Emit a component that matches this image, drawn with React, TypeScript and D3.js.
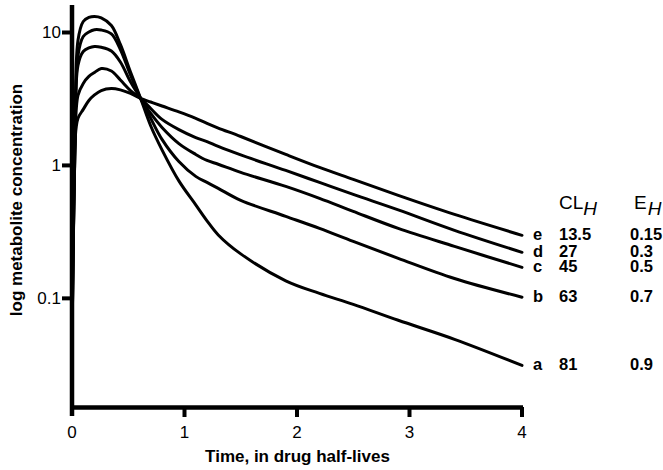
import React from "react";
import * as d3 from "d3";

const times = [0, 0.027, 0.053, 0.1, 0.15, 0.2, 0.26, 0.35, 0.43, 0.52, 0.61, 0.7, 0.8, 0.95, 1.1, 1.2, 1.3, 1.5, 1.9, 2.2, 2.5, 2.9, 3.4, 4.0];

const curveA = [0.048, 1.54, 8.71, 12.1, 12.97, 13.2, 12.9, 11.3, 8.13, 5.05, 3.19, 1.98, 1.31, 0.765, 0.505, 0.383, 0.300, 0.216, 0.1355, 0.109, 0.0902, 0.0684, 0.0492, 0.0313];
const curveB = [0.048, 1.54, 6.71, 9.33, 10.08, 10.5, 10.44, 9.75, 7.45, 4.79, 3.19, 2.26, 1.57, 1.07, 0.827, 0.745, 0.672, 0.546, 0.414, 0.336, 0.268, 0.200, 0.141, 0.102];
const curveC = [0.048, 1.54, 5.65, 7.19, 7.65, 7.85, 7.74, 7.26, 6.0, 4.25, 3.19, 2.46, 1.93, 1.46, 1.21, 1.09, 1.02, 0.886, 0.695, 0.565, 0.451, 0.336, 0.246, 0.171];
const curveD = [0.048, 1.54, 3.36, 4.14, 4.67, 5.0, 5.36, 5.13, 4.39, 3.66, 3.19, 2.68, 2.22, 1.86, 1.62, 1.51, 1.39, 1.20, 0.917, 0.745, 0.605, 0.463, 0.325, 0.222];
const curveE = [0.048, 1.54, 2.26, 2.64, 3.08, 3.39, 3.66, 3.79, 3.70, 3.48, 3.19, 3.0, 2.80, 2.53, 2.26, 2.07, 1.91, 1.65, 1.21, 0.966, 0.785, 0.595, 0.428, 0.298];

const curveLabels = ["a", "b", "c", "d", "e"];
const clH = ["81", "63", "45", "27", "13.5"];
const eH = ["0.9", "0.7", "0.5", "0.3", "0.15"];
const seriesList = [curveA, curveB, curveC, curveD, curveE];

const xTicks = [0, 1, 2, 3, 4];
const yTicks = [10, 1, 0.1];
const yTickLabels = ["10", "1", "0.1"];

const W = 663;
const H = 470;

export default function App() {
  const x = d3.scaleLinear().domain([0, 4]).range([72, 522]);
  const y = d3.scaleLog().domain([0.0151, 16.1]).range([407.5, 5]);

  const line = d3
    .line<number>()
    .x((_, i) => x(times[i]))
    .y((c) => y(c))
    .curve(d3.curveCatmullRom.alpha(0.5));

  const font = "'Liberation Sans', Arial, Helvetica, sans-serif";

  return (
    <svg width={W} height={H} style={{ position: "absolute", left: 0, top: 0, background: "#fff" }} fontFamily={font}>
      <rect x={0} y={0} width={W} height={H} fill="#fff" />
      {/* curves */}
      {seriesList.map((s, i) => (
        <path key={i} d={line(s) || ""} fill="none" stroke="#000" strokeWidth={3} strokeLinejoin="round" strokeLinecap="round" />
      ))}
      {/* axes */}
      <line x1={x(0)} y1={y.range()[1]} x2={x(0)} y2={416} stroke="#000" strokeWidth={4.5} />
      <line x1={x(0)} y1={y.range()[0]} x2={x(4) + 1} y2={y.range()[0]} stroke="#000" strokeWidth={4.5} />
      {xTicks.map((t) => (
        <g key={t}>
          {t > 0 && <line x1={x(t)} y1={407} x2={x(t)} y2={417} stroke="#000" strokeWidth={4} />}
          <text x={x(t)} y={438} fontSize={17} textAnchor="middle">{t}</text>
        </g>
      ))}
      {yTicks.map((v, i) => (
        <g key={v}>
          <line x1={62} y1={y(v)} x2={x(0)} y2={y(v)} stroke="#000" strokeWidth={4} />
          <text x={61} y={y(v) + 6} fontSize={17} textAnchor="end">{yTickLabels[i]}</text>
        </g>
      ))}
      <text x={297.5} y={462} fontSize={17} fontWeight="bold" textAnchor="middle">Time, in drug half-lives</text>
      <text transform="translate(22,200) rotate(-90)" fontSize={17} fontWeight="bold" textAnchor="middle">log metabolite concentration</text>
      {/* legend */}
      <text x={559} y={209} fontSize={19}>CL<tspan fontStyle="italic" dy={6}>H</tspan></text>
      <text x={634} y={209} fontSize={19}>E<tspan fontStyle="italic" dy={6} dx={1}>H</tspan></text>
      {seriesList.map((s, i) => {
        const yy = y(s[s.length - 1]) + 4.5;
        return (
          <g key={i} fontSize={16.5} fontWeight="bold">
            <text x={533} y={yy}>{curveLabels[i]}</text>
            <text x={559} y={yy}>{clH[i]}</text>
            <text x={630} y={yy}>{eH[i]}</text>
          </g>
        );
      })}
    </svg>
  );
}
